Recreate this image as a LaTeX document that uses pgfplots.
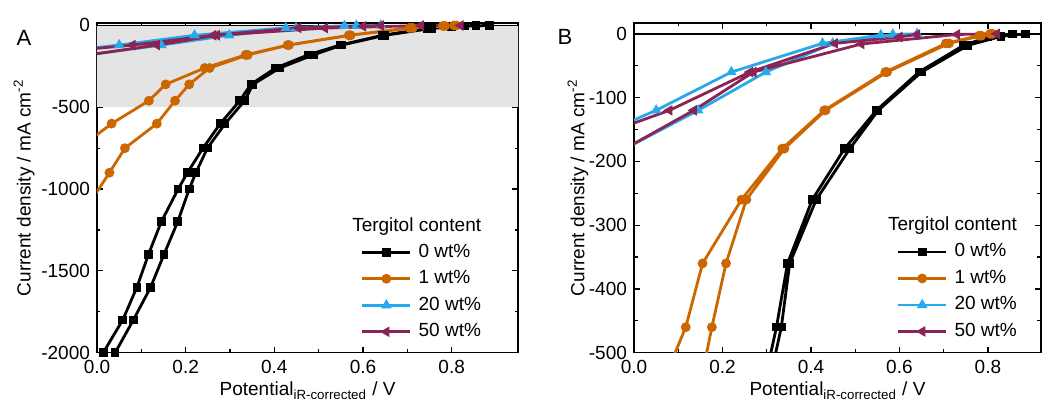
\documentclass[border=0pt]{standalone}
\usepackage{fontspec}
\setmainfont{Liberation Sans}
\usepackage{pgfplots}
\usepackage{pgfplotstable}
\pgfplotsset{compat=1.18}

\definecolor{cblack}{RGB}{0,0,0}
\definecolor{corange}{RGB}{204,102,0}
\definecolor{cblue}{RGB}{38,170,235}
\definecolor{cpurple}{RGB}{139,35,85}
\definecolor{shade}{RGB}{228,228,228}

\newcommand{\lblfont}{\fontsize{9.5}{11}\selectfont}

% 0 wt%: forward branch, break, return branch
\pgfplotstableread{
x y
0.855 0
0.80 -5
0.745 -18
0.644 -60
0.548 -120
0.476 -180
0.403 -260
0.347 -360
0.322 -460
0.278 -600
0.239 -750
0.204 -900
0.183 -1000
0.145 -1200
0.116 -1400
0.090 -1600
0.058 -1800
0.014 -2000
nan nan
0.041 -2000
0.082 -1800
0.121 -1600
0.151 -1400
0.182 -1200
0.208 -1000
0.223 -900
0.249 -750
0.289 -600
0.333 -460
0.352 -360
0.412 -260
0.488 -180
0.552 -120
0.650 -60
0.755 -18
0.83 -4
0.885 0
}\tblZero
\pgfplotstableread{
x y
0.805 0
0.78 -3
0.705 -15
0.568 -60
0.430 -120
0.335 -180
0.243 -260
0.155 -360
0.117 -460
0.033 -600
-0.04 -750
nan nan
-0.02 -1100
0.028 -900
0.063 -750
0.135 -600
0.176 -460
0.208 -360
0.254 -260
0.340 -180
0.433 -120
0.572 -60
0.712 -15
0.785 -3
0.81 0
}\tblOne
\pgfplotstableread{
x y
0.64 0
0.585 -1
0.449 -15
0.298 -60
0.145 -120
-0.02 -180
nan nan
-0.15 -180
0.05 -120
0.22 -60
0.426 -15
0.558 -2
}\tblTwenty
\pgfplotstableread{
x y
0.82 0
0.73 -1
0.514 -16
0.27 -60
0.135 -120
-0.02 -180
nan nan
-0.16 -180
0.08 -120
0.262 -60
0.454 -15
0.60 -5
0.64 -1
}\tblFifty

\pgfplotsset{
  panel/.style={
    scale only axis,
    height=164.85pt,
    axis line style={line width=0.8pt},
    every tick/.style={black, line width=0.6pt},
    tick align=inside,
    major tick length=3pt,
    minor tick length=1.75pt,
    xtick={0,0.2,0.4,0.6,0.8},
    minor x tick num=1,
    minor y tick num=1,
    /pgf/number format/assume math mode=true,
    xticklabel style={/pgf/number format/.cd, fixed, fixed zerofill, precision=1},
    yticklabel style={/pgf/number format/.cd, fixed, 1000 sep={}},
    tick label style={font=\lblfont},
    label style={font=\lblfont},
    xlabel={Potential\textsubscript{iR-corrected} / V},
    ylabel={Current density / mA cm\textsuperscript{-2}},
    xlabel style={at={(axis description cs:0.5,0)}, anchor=base, yshift=-21.65pt},
    unbounded coords=jump,
    legend cell align=left,
    legend style={draw=none, fill=none, inner sep=0pt, font=\lblfont,
      row sep=4.25pt,
      nodes={inner sep=0pt, text height=7pt, text depth=2pt},
      /tikz/every odd column/.append style={column sep=3.5pt}},
    legend image code/.code={\draw[mark repeat=2,mark phase=2]
      plot coordinates {(0cm,0cm)(0.42cm,0cm)(0.84cm,0cm)};},
  },
  s0/.style={cblack, line width=1.4pt, mark=square*, mark size=1.9pt, mark options={solid, fill=cblack, line width=0.5pt}},
  s1/.style={corange, line width=1.4pt, mark=*, mark size=2.2pt, mark options={solid, fill=corange, line width=0.5pt}},
  s20/.style={cblue, line width=1.4pt, mark=triangle*, mark size=2.6pt, mark options={solid, fill=cblue, line width=0.5pt}},
  s50/.style={cpurple, line width=1.4pt, mark=triangle*, mark size=2.6pt, mark options={solid, fill=cpurple, rotate=90, line width=0.5pt}},
}

\begin{document}
\begin{tikzpicture}
\begin{axis}[panel, name=axA, at={(0,0)}, anchor=south west,
  width=210.6pt, xmin=0, xmax=0.95, ymin=-2000, ymax=15,
  ytick={0,-500,-1000,-1500,-2000},
  ylabel style={at={(axis description cs:-0.173,0.5)}, anchor=center},
  legend style={at={(axis description cs:0.626,0.184)}, anchor=west}]
\addplot[fill=shade, draw=none, forget plot] coordinates {(-0.1,-500) (1.0,-500)} \closedcycle;
\addplot[black, line width=0.8pt, forget plot] coordinates {(-0.1,0) (1.0,0)};
\addplot[s0] table[x=x, y=y] {\tblZero};
\addplot[s1] table[x=x, y=y] {\tblOne};
\addplot[s20] table[x=x, y=y] {\tblTwenty};
\addplot[s50] table[x=x, y=y] {\tblFifty};
\legend{0 wt\%, 1 wt\%, 20 wt\%, 50 wt\%}
\node[font=\lblfont] at (rel axis cs:0.759,0.384) {Tergitol content};
\end{axis}
\node[font=\fontsize{11}{13}\selectfont] at ([xshift=-36.5pt,yshift=157.6pt]axA.south west) {A};

\begin{axis}[panel, name=axB, at={(268.5pt,0)}, anchor=south west,
  width=203.5pt, xmin=0, xmax=0.92, ymin=-500, ymax=17,
  ytick={0,-100,-200,-300,-400,-500},
  ylabel style={at={(axis description cs:-0.1376,0.5)}, anchor=center},
  legend style={at={(axis description cs:0.645,0.185)}, anchor=west}]
\addplot[black, line width=0.8pt, forget plot] coordinates {(-0.1,0) (1.0,0)};
\addplot[s0] table[x=x, y=y] {\tblZero};
\addplot[s1] table[x=x, y=y] {\tblOne};
\addplot[s20] table[x=x, y=y] {\tblTwenty};
\addplot[s50] table[x=x, y=y] {\tblFifty};
\legend{0 wt\%, 1 wt\%, 20 wt\%, 50 wt\%}
\node[font=\lblfont] at (rel axis cs:0.7826,0.384) {Tergitol content};
\end{axis}
\node[font=\fontsize{11}{13}\selectfont] at ([xshift=-34.5pt,yshift=157.7pt]axB.south west) {B};

\pgfresetboundingbox
\useasboundingbox ([xshift=-48.5pt,yshift=-26.65pt]axA.south west) rectangle ([xshift=474.5pt,yshift=176.35pt]axA.south west);
\end{tikzpicture}
\end{document}
